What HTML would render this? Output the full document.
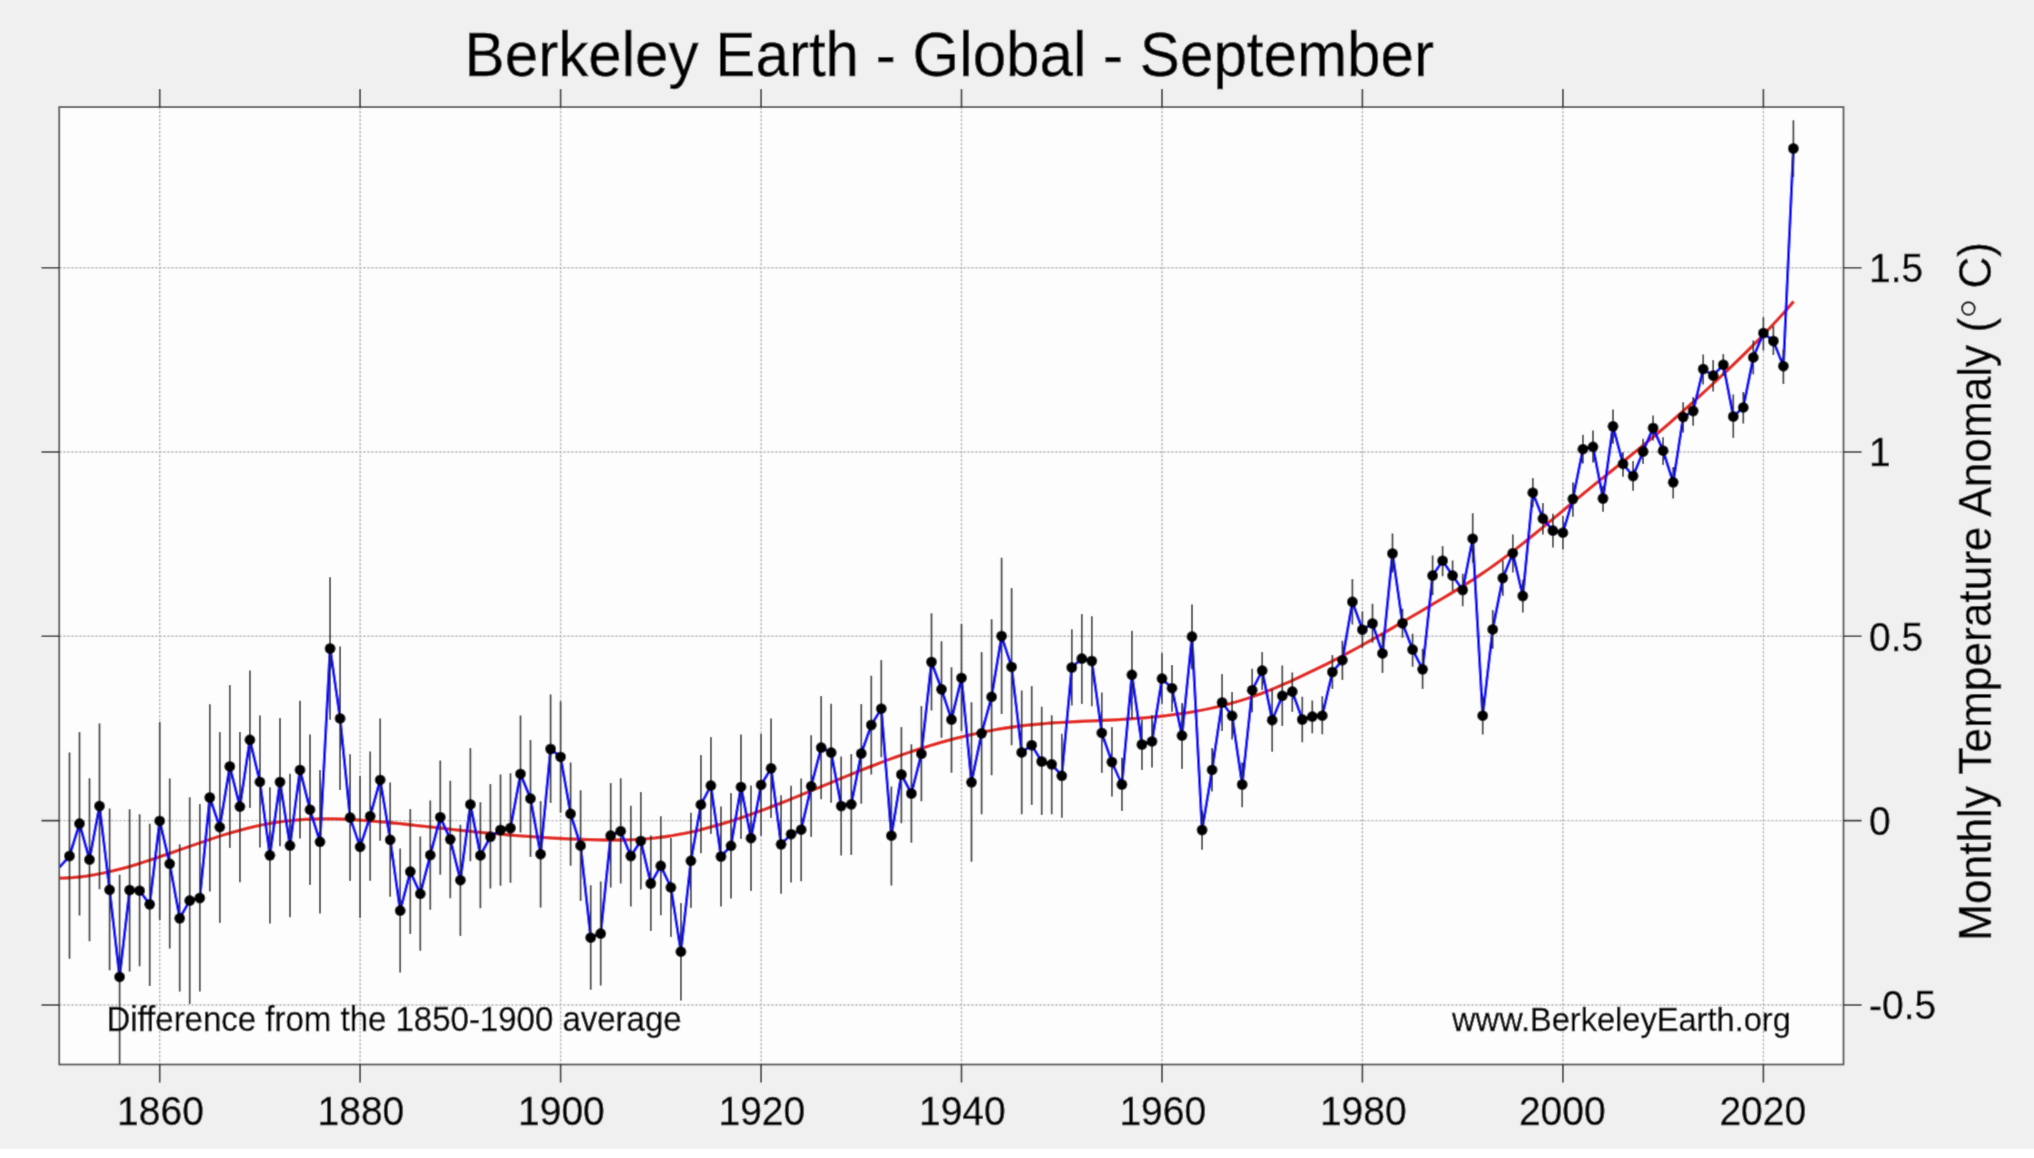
<!DOCTYPE html><html><head><meta charset="utf-8"><style>html,body{margin:0;padding:0;background:#fff;}svg{display:block;}</style></head><body>
<svg width="2034" height="1158" viewBox="0 0 2034 1158" font-family="Liberation Sans, sans-serif">
<defs><filter id="bl" x="0" y="0" width="2034" height="1158" filterUnits="userSpaceOnUse"><feConvolveMatrix order="3" kernelMatrix="1 3 1 3 20 3 1 3 1" divisor="36" edgeMode="duplicate"/></filter></defs>
<g filter="url(#bl)">
<rect x="0" y="0" width="2034" height="1149" fill="#f0f0f0"/>
<rect x="59.25" y="107.1" width="1784.25" height="957.4" fill="#fdfdfd"/>
<path d="M159.7 107.1V1064.5M360.1 107.1V1064.5M560.6 107.1V1064.5M761.1 107.1V1064.5M961.5 107.1V1064.5M1162.0 107.1V1064.5M1362.4 107.1V1064.5M1562.9 107.1V1064.5M1763.4 107.1V1064.5M59.25 1005.0H1843.5M59.25 820.6H1843.5M59.25 636.3H1843.5M59.25 452.0H1843.5M59.25 267.7H1843.5" stroke="#b6b6b6" stroke-width="1.4" stroke-dasharray="2.4 1.6" fill="none"/>
<defs><clipPath id="cp"><rect x="59.25" y="107.1" width="1784.25" height="957.4"/></clipPath></defs>
<g clip-path="url(#cp)">
<polyline points="50.0,877.9 57.3,878.1 64.6,878.0 71.9,877.6 79.2,877.0 86.5,876.1 93.8,874.9 101.1,873.5 108.4,872.0 115.7,870.2 123.0,868.3 130.3,866.3 137.5,864.1 144.8,861.8 152.1,859.4 159.4,856.9 166.7,854.4 174.0,851.9 181.3,849.3 188.6,846.7 195.9,844.2 203.2,841.7 210.5,839.2 217.8,836.8 225.1,834.5 232.4,832.3 239.7,830.3 247.0,828.4 254.3,826.6 261.6,825.0 268.9,823.6 276.2,822.4 283.5,821.4 290.8,820.6 298.1,819.9 305.4,819.4 312.6,819.1 319.9,818.9 327.2,818.8 334.5,818.9 341.8,819.2 349.1,819.5 356.4,819.9 363.7,820.4 371.0,821.0 378.3,821.6 385.6,822.2 392.9,823.0 400.2,823.7 407.5,824.5 414.8,825.3 422.1,826.1 429.4,826.9 436.7,827.7 444.0,828.5 451.3,829.4 458.6,830.2 465.9,830.9 473.2,831.7 480.5,832.4 487.7,833.1 495.0,833.7 502.3,834.4 509.6,835.0 516.9,835.6 524.2,836.1 531.5,836.7 538.8,837.2 546.1,837.6 553.4,838.1 560.7,838.5 568.0,838.8 575.3,839.2 582.6,839.5 589.9,839.7 597.2,839.9 604.5,840.0 611.8,840.1 619.1,840.0 626.4,839.8 633.7,839.6 641.0,839.1 648.3,838.6 655.6,837.9 662.8,837.0 670.1,836.0 677.4,834.7 684.7,833.3 692.0,831.8 699.3,830.1 706.6,828.2 713.9,826.2 721.2,824.1 728.5,821.9 735.8,819.5 743.1,817.1 750.4,814.5 757.7,811.9 765.0,809.2 772.3,806.4 779.6,803.6 786.9,800.7 794.2,797.8 801.5,794.8 808.8,791.8 816.1,788.8 823.4,785.8 830.7,782.7 837.9,779.7 845.2,776.7 852.5,773.8 859.8,770.8 867.1,767.9 874.4,765.1 881.7,762.3 889.0,759.5 896.3,756.9 903.6,754.3 910.9,751.8 918.2,749.4 925.5,747.1 932.8,744.8 940.1,742.7 947.4,740.7 954.7,738.7 962.0,736.9 969.3,735.1 976.6,733.5 983.9,731.9 991.2,730.5 998.5,729.2 1005.8,728.0 1013.0,727.0 1020.3,726.0 1027.6,725.2 1034.9,724.5 1042.2,723.8 1049.5,723.2 1056.8,722.7 1064.1,722.3 1071.4,721.9 1078.7,721.5 1086.0,721.2 1093.3,720.8 1100.6,720.5 1107.9,720.1 1115.2,719.8 1122.5,719.4 1129.8,718.9 1137.1,718.4 1144.4,717.8 1151.7,717.2 1159.0,716.5 1166.3,715.6 1173.6,714.7 1180.9,713.7 1188.1,712.6 1195.4,711.4 1202.7,710.0 1210.0,708.5 1217.3,706.9 1224.6,705.1 1231.9,703.1 1239.2,701.0 1246.5,698.7 1253.8,696.2 1261.1,693.6 1268.4,690.7 1275.7,687.8 1283.0,684.6 1290.3,681.4 1297.6,678.0 1304.9,674.6 1312.2,671.1 1319.5,667.5 1326.8,663.9 1334.1,660.2 1341.4,656.4 1348.7,652.5 1356.0,648.6 1363.2,644.6 1370.5,640.5 1377.8,636.4 1385.1,632.2 1392.4,628.0 1399.7,623.7 1407.0,619.4 1414.3,615.1 1421.6,610.8 1428.9,606.5 1436.2,602.2 1443.5,597.9 1450.8,593.5 1458.1,589.0 1465.4,584.5 1472.7,579.8 1480.0,575.0 1487.3,570.0 1494.6,564.8 1501.9,559.5 1509.2,554.0 1516.5,548.5 1523.8,542.8 1531.1,536.9 1538.3,531.0 1545.6,525.0 1552.9,519.0 1560.2,512.9 1567.5,506.8 1574.8,500.7 1582.1,494.7 1589.4,488.8 1596.7,482.8 1604.0,477.0 1611.3,471.1 1618.6,465.3 1625.9,459.4 1633.2,453.5 1640.5,447.6 1647.8,441.6 1655.1,435.5 1662.4,429.2 1669.7,422.9 1677.0,416.5 1684.3,410.0 1691.6,403.4 1698.9,396.8 1706.2,390.1 1713.4,383.4 1720.7,376.6 1728.0,369.8 1735.3,362.8 1742.6,355.7 1749.9,348.5 1757.2,341.2 1764.5,333.7 1771.8,325.9 1779.1,318.0 1786.4,309.8 1793.7,301.4" fill="none" stroke="#e3261d" stroke-width="3.3" stroke-linejoin="round"/>
<polyline points="59.5,867.3 69.5,856.0 79.5,823.6 89.5,859.6 99.5,806.1 109.6,889.8 119.6,976.9 129.6,890.1 139.6,890.7 149.7,904.3 159.7,820.9 169.7,863.8 179.7,918.3 189.7,900.6 199.8,898.0 209.8,797.5 219.8,827.2 229.8,766.4 239.9,806.6 249.9,739.8 259.9,781.9 269.9,855.3 280.0,782.0 290.0,845.6 300.0,769.9 310.0,809.7 320.0,841.8 330.1,648.5 340.1,718.4 350.1,817.6 360.1,846.9 370.2,816.2 380.2,779.9 390.2,839.8 400.2,910.6 410.3,871.6 420.3,893.8 430.3,855.1 440.3,817.2 450.3,839.3 460.4,880.2 470.4,804.4 480.4,855.4 490.4,836.8 500.5,830.0 510.5,828.1 520.5,773.9 530.5,798.6 540.6,854.2 550.6,749.0 560.6,756.9 570.6,813.8 580.6,845.7 590.7,937.7 600.7,933.6 610.7,835.6 620.7,831.2 630.8,856.1 640.8,840.9 650.8,883.5 660.8,865.8 670.9,887.4 680.9,951.7 690.9,860.8 700.9,804.7 710.9,785.6 721.0,856.5 731.0,845.8 741.0,786.9 751.0,838.2 761.1,784.9 771.1,768.3 781.1,844.3 791.1,834.2 801.2,829.7 811.2,786.3 821.2,747.6 831.2,752.6 841.2,806.1 851.3,804.3 861.3,753.5 871.3,725.0 881.3,708.7 891.4,835.7 901.4,774.5 911.4,793.5 921.4,753.8 931.5,662.0 941.5,689.3 951.5,719.6 961.5,677.9 971.5,782.3 981.6,733.3 991.6,696.8 1001.6,636.1 1011.6,666.9 1021.7,752.4 1031.7,745.2 1041.7,761.5 1051.7,764.3 1061.8,775.8 1071.8,667.5 1081.8,658.6 1091.8,661.0 1101.8,732.9 1111.9,762.0 1121.9,784.5 1131.9,674.8 1141.9,744.5 1152.0,741.4 1162.0,678.6 1172.0,688.2 1182.0,735.6 1192.0,636.6 1202.1,830.0 1212.1,769.9 1222.1,702.5 1232.1,715.8 1242.2,784.5 1252.2,690.2 1262.2,670.6 1272.2,720.2 1282.3,695.8 1292.3,691.6 1302.3,719.5 1312.3,716.6 1322.3,715.7 1332.4,672.0 1342.4,660.2 1352.4,601.8 1362.4,629.7 1372.5,623.5 1382.5,653.4 1392.5,553.5 1402.5,623.3 1412.6,649.6 1422.6,669.3 1432.6,575.6 1442.6,560.7 1452.6,575.6 1462.7,590.0 1472.7,538.7 1482.7,715.7 1492.7,629.4 1502.8,578.1 1512.8,553.2 1522.8,596.0 1532.8,492.7 1542.9,518.6 1552.9,530.6 1562.9,532.7 1572.9,499.0 1582.9,449.2 1593.0,446.8 1603.0,498.5 1613.0,426.3 1623.0,463.9 1633.1,476.1 1643.1,451.5 1653.1,427.9 1663.1,450.7 1673.2,482.3 1683.2,417.1 1693.2,411.0 1703.2,369.1 1713.2,375.6 1723.3,364.7 1733.3,416.5 1743.3,407.4 1753.3,357.4 1763.4,333.1 1773.4,341.0 1783.4,366.2 1793.4,148.5" fill="none" stroke="#0000ff" stroke-width="2.9" stroke-linejoin="round"/>
<path d="M69.5 752.6V958.7M79.5 731.9V915.4M89.5 778.3V941.2M99.5 723.5V889.2M109.6 808.5V970.2M119.6 874.7V1070.0M129.6 809.2V971.4M139.6 814.3V966.3M149.7 823.7V985.9M159.7 722.0V920.0M169.7 778.4V948.6M179.7 844.3V991.5M189.7 797.3V1004.0M199.8 804.0V991.5M209.8 704.2V891.4M219.8 732.0V923.0M229.8 685.1V848.0M239.9 732.0V882.2M249.9 670.6V808.1M259.9 715.5V847.5M269.9 787.3V923.4M280.0 718.0V846.3M290.0 773.7V917.2M300.0 700.7V838.4M310.0 734.6V885.0M320.0 769.9V913.4M330.1 577.3V719.7M340.1 646.4V790.0M350.1 754.3V880.9M360.1 775.9V918.0M370.2 751.6V880.8M380.2 718.5V840.7M390.2 782.6V896.8M400.2 848.4V972.6M410.3 808.9V934.1M420.3 836.5V950.7M430.3 800.6V909.8M440.3 760.5V874.7M450.3 780.7V898.2M460.4 824.8V936.0M470.4 747.9V861.2M480.4 802.2V908.2M490.4 784.0V888.6M500.5 774.4V885.7M510.5 773.2V882.8M520.5 715.6V832.4M530.5 740.0V857.1M540.6 801.0V907.4M550.6 694.5V802.9M560.6 701.3V812.6M570.6 762.4V865.8M580.6 790.3V900.9M590.7 885.2V989.7M600.7 881.5V985.6M610.7 783.1V887.6M620.7 778.2V883.5M630.8 805.8V906.5M640.8 792.0V889.5M650.8 835.6V931.1M660.8 816.3V915.2M670.9 837.9V937.0M680.9 902.9V1000.6M690.9 812.7V907.9M700.9 755.1V853.3M710.9 737.0V834.0M721.0 806.4V906.6M731.0 793.1V898.4M741.0 734.5V839.0M751.0 785.6V891.1M761.1 733.8V835.7M771.1 718.4V818.0M781.1 795.3V893.7M791.1 785.8V882.5M801.2 778.4V881.3M811.2 735.3V837.1M821.2 696.0V799.3M831.2 703.8V802.7M841.2 756.6V855.5M851.3 753.9V855.1M861.3 703.9V803.8M871.3 675.8V774.6M881.3 660.0V757.2M891.4 786.5V885.5M901.4 726.9V823.3M911.4 744.2V842.7M921.4 706.1V801.3M931.5 613.3V710.5M941.5 641.3V737.7M951.5 667.2V772.7M961.5 624.1V731.1M971.5 702.3V861.8M981.6 652.0V814.2M991.6 619.2V775.2M1001.6 557.7V713.9M1011.6 587.9V745.2M1021.7 690.5V814.2M1031.7 686.0V805.1M1041.7 706.8V815.1M1051.7 715.3V814.2M1061.8 733.7V817.7M1071.8 629.2V705.5M1081.8 613.9V703.9M1091.8 616.3V706.3M1101.8 692.5V773.1M1111.9 727.1V796.5M1121.9 757.8V811.1M1131.9 630.8V719.1M1141.9 719.9V770.0M1152.0 715.0V767.5M1162.0 653.0V703.8M1172.0 665.1V711.7M1182.0 703.0V768.9M1192.0 604.4V669.2M1202.1 810.2V849.8M1212.1 748.0V791.5M1222.1 673.9V731.0M1232.1 692.0V739.6M1242.2 762.4V807.2M1252.2 668.8V712.3M1262.2 651.9V690.1M1272.2 689.1V751.8M1282.3 665.4V726.1M1292.3 672.4V711.9M1302.3 696.7V742.3M1312.3 700.5V733.2M1322.3 696.3V734.3M1332.4 654.9V689.1M1342.4 640.7V680.0M1352.4 579.0V624.6M1362.4 611.6V647.7M1372.5 603.8V642.8M1382.5 633.7V673.1M1392.5 533.6V572.5M1402.5 608.8V637.8M1412.6 633.7V666.8M1422.6 648.8V689.0M1432.6 555.5V595.3M1442.6 546.0V576.3M1452.6 560.5V590.8M1462.7 573.7V606.3M1472.7 513.3V562.5M1482.7 697.1V734.6M1492.7 610.0V648.7M1502.8 560.4V596.0M1512.8 534.5V572.5M1522.8 579.8V612.4M1532.8 478.1V507.2M1542.9 503.1V534.5M1552.9 513.7V547.6M1562.9 516.0V549.4M1572.9 482.6V516.7M1582.9 434.7V463.6M1593.0 430.5V462.4M1603.0 485.7V511.8M1613.0 409.5V443.7M1623.0 452.3V476.7M1633.1 461.1V490.7M1643.1 438.8V463.9M1653.1 415.4V440.6M1663.1 437.3V465.0M1673.2 467.0V498.5M1683.2 402.2V432.6M1693.2 397.0V425.7M1703.2 354.4V384.6M1713.2 360.1V391.5M1723.3 353.9V376.0M1733.3 394.6V438.1M1743.3 391.9V423.4M1753.3 340.6V374.2M1763.4 317.2V350.4M1773.4 325.9V354.9M1783.4 349.4V383.9M1793.4 120.3V176.9" stroke="#2a2a2a" stroke-width="1.7" fill="none"/>
<circle cx="69.5" cy="856.0" r="5.5" fill="#000000"/>
<circle cx="79.5" cy="823.6" r="5.5" fill="#000000"/>
<circle cx="89.5" cy="859.6" r="5.5" fill="#000000"/>
<circle cx="99.5" cy="806.1" r="5.5" fill="#000000"/>
<circle cx="109.6" cy="889.8" r="5.5" fill="#000000"/>
<circle cx="119.6" cy="976.9" r="5.5" fill="#000000"/>
<circle cx="129.6" cy="890.1" r="5.5" fill="#000000"/>
<circle cx="139.6" cy="890.7" r="5.5" fill="#000000"/>
<circle cx="149.7" cy="904.3" r="5.5" fill="#000000"/>
<circle cx="159.7" cy="820.9" r="5.5" fill="#000000"/>
<circle cx="169.7" cy="863.8" r="5.5" fill="#000000"/>
<circle cx="179.7" cy="918.3" r="5.5" fill="#000000"/>
<circle cx="189.7" cy="900.6" r="5.5" fill="#000000"/>
<circle cx="199.8" cy="898.0" r="5.5" fill="#000000"/>
<circle cx="209.8" cy="797.5" r="5.5" fill="#000000"/>
<circle cx="219.8" cy="827.2" r="5.5" fill="#000000"/>
<circle cx="229.8" cy="766.4" r="5.5" fill="#000000"/>
<circle cx="239.9" cy="806.6" r="5.5" fill="#000000"/>
<circle cx="249.9" cy="739.8" r="5.5" fill="#000000"/>
<circle cx="259.9" cy="781.9" r="5.5" fill="#000000"/>
<circle cx="269.9" cy="855.3" r="5.5" fill="#000000"/>
<circle cx="280.0" cy="782.0" r="5.5" fill="#000000"/>
<circle cx="290.0" cy="845.6" r="5.5" fill="#000000"/>
<circle cx="300.0" cy="769.9" r="5.5" fill="#000000"/>
<circle cx="310.0" cy="809.7" r="5.5" fill="#000000"/>
<circle cx="320.0" cy="841.8" r="5.5" fill="#000000"/>
<circle cx="330.1" cy="648.5" r="5.5" fill="#000000"/>
<circle cx="340.1" cy="718.4" r="5.5" fill="#000000"/>
<circle cx="350.1" cy="817.6" r="5.5" fill="#000000"/>
<circle cx="360.1" cy="846.9" r="5.5" fill="#000000"/>
<circle cx="370.2" cy="816.2" r="5.5" fill="#000000"/>
<circle cx="380.2" cy="779.9" r="5.5" fill="#000000"/>
<circle cx="390.2" cy="839.8" r="5.5" fill="#000000"/>
<circle cx="400.2" cy="910.6" r="5.5" fill="#000000"/>
<circle cx="410.3" cy="871.6" r="5.5" fill="#000000"/>
<circle cx="420.3" cy="893.8" r="5.5" fill="#000000"/>
<circle cx="430.3" cy="855.1" r="5.5" fill="#000000"/>
<circle cx="440.3" cy="817.2" r="5.5" fill="#000000"/>
<circle cx="450.3" cy="839.3" r="5.5" fill="#000000"/>
<circle cx="460.4" cy="880.2" r="5.5" fill="#000000"/>
<circle cx="470.4" cy="804.4" r="5.5" fill="#000000"/>
<circle cx="480.4" cy="855.4" r="5.5" fill="#000000"/>
<circle cx="490.4" cy="836.8" r="5.5" fill="#000000"/>
<circle cx="500.5" cy="830.0" r="5.5" fill="#000000"/>
<circle cx="510.5" cy="828.1" r="5.5" fill="#000000"/>
<circle cx="520.5" cy="773.9" r="5.5" fill="#000000"/>
<circle cx="530.5" cy="798.6" r="5.5" fill="#000000"/>
<circle cx="540.6" cy="854.2" r="5.5" fill="#000000"/>
<circle cx="550.6" cy="749.0" r="5.5" fill="#000000"/>
<circle cx="560.6" cy="756.9" r="5.5" fill="#000000"/>
<circle cx="570.6" cy="813.8" r="5.5" fill="#000000"/>
<circle cx="580.6" cy="845.7" r="5.5" fill="#000000"/>
<circle cx="590.7" cy="937.7" r="5.5" fill="#000000"/>
<circle cx="600.7" cy="933.6" r="5.5" fill="#000000"/>
<circle cx="610.7" cy="835.6" r="5.5" fill="#000000"/>
<circle cx="620.7" cy="831.2" r="5.5" fill="#000000"/>
<circle cx="630.8" cy="856.1" r="5.5" fill="#000000"/>
<circle cx="640.8" cy="840.9" r="5.5" fill="#000000"/>
<circle cx="650.8" cy="883.5" r="5.5" fill="#000000"/>
<circle cx="660.8" cy="865.8" r="5.5" fill="#000000"/>
<circle cx="670.9" cy="887.4" r="5.5" fill="#000000"/>
<circle cx="680.9" cy="951.7" r="5.5" fill="#000000"/>
<circle cx="690.9" cy="860.8" r="5.5" fill="#000000"/>
<circle cx="700.9" cy="804.7" r="5.5" fill="#000000"/>
<circle cx="710.9" cy="785.6" r="5.5" fill="#000000"/>
<circle cx="721.0" cy="856.5" r="5.5" fill="#000000"/>
<circle cx="731.0" cy="845.8" r="5.5" fill="#000000"/>
<circle cx="741.0" cy="786.9" r="5.5" fill="#000000"/>
<circle cx="751.0" cy="838.2" r="5.5" fill="#000000"/>
<circle cx="761.1" cy="784.9" r="5.5" fill="#000000"/>
<circle cx="771.1" cy="768.3" r="5.5" fill="#000000"/>
<circle cx="781.1" cy="844.3" r="5.5" fill="#000000"/>
<circle cx="791.1" cy="834.2" r="5.5" fill="#000000"/>
<circle cx="801.2" cy="829.7" r="5.5" fill="#000000"/>
<circle cx="811.2" cy="786.3" r="5.5" fill="#000000"/>
<circle cx="821.2" cy="747.6" r="5.5" fill="#000000"/>
<circle cx="831.2" cy="752.6" r="5.5" fill="#000000"/>
<circle cx="841.2" cy="806.1" r="5.5" fill="#000000"/>
<circle cx="851.3" cy="804.3" r="5.5" fill="#000000"/>
<circle cx="861.3" cy="753.5" r="5.5" fill="#000000"/>
<circle cx="871.3" cy="725.0" r="5.5" fill="#000000"/>
<circle cx="881.3" cy="708.7" r="5.5" fill="#000000"/>
<circle cx="891.4" cy="835.7" r="5.5" fill="#000000"/>
<circle cx="901.4" cy="774.5" r="5.5" fill="#000000"/>
<circle cx="911.4" cy="793.5" r="5.5" fill="#000000"/>
<circle cx="921.4" cy="753.8" r="5.5" fill="#000000"/>
<circle cx="931.5" cy="662.0" r="5.5" fill="#000000"/>
<circle cx="941.5" cy="689.3" r="5.5" fill="#000000"/>
<circle cx="951.5" cy="719.6" r="5.5" fill="#000000"/>
<circle cx="961.5" cy="677.9" r="5.5" fill="#000000"/>
<circle cx="971.5" cy="782.3" r="5.5" fill="#000000"/>
<circle cx="981.6" cy="733.3" r="5.5" fill="#000000"/>
<circle cx="991.6" cy="696.8" r="5.5" fill="#000000"/>
<circle cx="1001.6" cy="636.1" r="5.5" fill="#000000"/>
<circle cx="1011.6" cy="666.9" r="5.5" fill="#000000"/>
<circle cx="1021.7" cy="752.4" r="5.5" fill="#000000"/>
<circle cx="1031.7" cy="745.2" r="5.5" fill="#000000"/>
<circle cx="1041.7" cy="761.5" r="5.5" fill="#000000"/>
<circle cx="1051.7" cy="764.3" r="5.5" fill="#000000"/>
<circle cx="1061.8" cy="775.8" r="5.5" fill="#000000"/>
<circle cx="1071.8" cy="667.5" r="5.5" fill="#000000"/>
<circle cx="1081.8" cy="658.6" r="5.5" fill="#000000"/>
<circle cx="1091.8" cy="661.0" r="5.5" fill="#000000"/>
<circle cx="1101.8" cy="732.9" r="5.5" fill="#000000"/>
<circle cx="1111.9" cy="762.0" r="5.5" fill="#000000"/>
<circle cx="1121.9" cy="784.5" r="5.5" fill="#000000"/>
<circle cx="1131.9" cy="674.8" r="5.5" fill="#000000"/>
<circle cx="1141.9" cy="744.5" r="5.5" fill="#000000"/>
<circle cx="1152.0" cy="741.4" r="5.5" fill="#000000"/>
<circle cx="1162.0" cy="678.6" r="5.5" fill="#000000"/>
<circle cx="1172.0" cy="688.2" r="5.5" fill="#000000"/>
<circle cx="1182.0" cy="735.6" r="5.5" fill="#000000"/>
<circle cx="1192.0" cy="636.6" r="5.5" fill="#000000"/>
<circle cx="1202.1" cy="830.0" r="5.5" fill="#000000"/>
<circle cx="1212.1" cy="769.9" r="5.5" fill="#000000"/>
<circle cx="1222.1" cy="702.5" r="5.5" fill="#000000"/>
<circle cx="1232.1" cy="715.8" r="5.5" fill="#000000"/>
<circle cx="1242.2" cy="784.5" r="5.5" fill="#000000"/>
<circle cx="1252.2" cy="690.2" r="5.5" fill="#000000"/>
<circle cx="1262.2" cy="670.6" r="5.5" fill="#000000"/>
<circle cx="1272.2" cy="720.2" r="5.5" fill="#000000"/>
<circle cx="1282.3" cy="695.8" r="5.5" fill="#000000"/>
<circle cx="1292.3" cy="691.6" r="5.5" fill="#000000"/>
<circle cx="1302.3" cy="719.5" r="5.5" fill="#000000"/>
<circle cx="1312.3" cy="716.6" r="5.5" fill="#000000"/>
<circle cx="1322.3" cy="715.7" r="5.5" fill="#000000"/>
<circle cx="1332.4" cy="672.0" r="5.5" fill="#000000"/>
<circle cx="1342.4" cy="660.2" r="5.5" fill="#000000"/>
<circle cx="1352.4" cy="601.8" r="5.5" fill="#000000"/>
<circle cx="1362.4" cy="629.7" r="5.5" fill="#000000"/>
<circle cx="1372.5" cy="623.5" r="5.5" fill="#000000"/>
<circle cx="1382.5" cy="653.4" r="5.5" fill="#000000"/>
<circle cx="1392.5" cy="553.5" r="5.5" fill="#000000"/>
<circle cx="1402.5" cy="623.3" r="5.5" fill="#000000"/>
<circle cx="1412.6" cy="649.6" r="5.5" fill="#000000"/>
<circle cx="1422.6" cy="669.3" r="5.5" fill="#000000"/>
<circle cx="1432.6" cy="575.6" r="5.5" fill="#000000"/>
<circle cx="1442.6" cy="560.7" r="5.5" fill="#000000"/>
<circle cx="1452.6" cy="575.6" r="5.5" fill="#000000"/>
<circle cx="1462.7" cy="590.0" r="5.5" fill="#000000"/>
<circle cx="1472.7" cy="538.7" r="5.5" fill="#000000"/>
<circle cx="1482.7" cy="715.7" r="5.5" fill="#000000"/>
<circle cx="1492.7" cy="629.4" r="5.5" fill="#000000"/>
<circle cx="1502.8" cy="578.1" r="5.5" fill="#000000"/>
<circle cx="1512.8" cy="553.2" r="5.5" fill="#000000"/>
<circle cx="1522.8" cy="596.0" r="5.5" fill="#000000"/>
<circle cx="1532.8" cy="492.7" r="5.5" fill="#000000"/>
<circle cx="1542.9" cy="518.6" r="5.5" fill="#000000"/>
<circle cx="1552.9" cy="530.6" r="5.5" fill="#000000"/>
<circle cx="1562.9" cy="532.7" r="5.5" fill="#000000"/>
<circle cx="1572.9" cy="499.0" r="5.5" fill="#000000"/>
<circle cx="1582.9" cy="449.2" r="5.5" fill="#000000"/>
<circle cx="1593.0" cy="446.8" r="5.5" fill="#000000"/>
<circle cx="1603.0" cy="498.5" r="5.5" fill="#000000"/>
<circle cx="1613.0" cy="426.3" r="5.5" fill="#000000"/>
<circle cx="1623.0" cy="463.9" r="5.5" fill="#000000"/>
<circle cx="1633.1" cy="476.1" r="5.5" fill="#000000"/>
<circle cx="1643.1" cy="451.5" r="5.5" fill="#000000"/>
<circle cx="1653.1" cy="427.9" r="5.5" fill="#000000"/>
<circle cx="1663.1" cy="450.7" r="5.5" fill="#000000"/>
<circle cx="1673.2" cy="482.3" r="5.5" fill="#000000"/>
<circle cx="1683.2" cy="417.1" r="5.5" fill="#000000"/>
<circle cx="1693.2" cy="411.0" r="5.5" fill="#000000"/>
<circle cx="1703.2" cy="369.1" r="5.5" fill="#000000"/>
<circle cx="1713.2" cy="375.6" r="5.5" fill="#000000"/>
<circle cx="1723.3" cy="364.7" r="5.5" fill="#000000"/>
<circle cx="1733.3" cy="416.5" r="5.5" fill="#000000"/>
<circle cx="1743.3" cy="407.4" r="5.5" fill="#000000"/>
<circle cx="1753.3" cy="357.4" r="5.5" fill="#000000"/>
<circle cx="1763.4" cy="333.1" r="5.5" fill="#000000"/>
<circle cx="1773.4" cy="341.0" r="5.5" fill="#000000"/>
<circle cx="1783.4" cy="366.2" r="5.5" fill="#000000"/>
<circle cx="1793.4" cy="148.5" r="5.5" fill="#000000"/>
</g>
<rect x="59.25" y="107.1" width="1784.25" height="957.4" fill="none" stroke="#505050" stroke-width="1.8"/>
<path d="M159.7 89V107.1M159.7 1064.5V1082.5M360.1 89V107.1M360.1 1064.5V1082.5M560.6 89V107.1M560.6 1064.5V1082.5M761.1 89V107.1M761.1 1064.5V1082.5M961.5 89V107.1M961.5 1064.5V1082.5M1162.0 89V107.1M1162.0 1064.5V1082.5M1362.4 89V107.1M1362.4 1064.5V1082.5M1562.9 89V107.1M1562.9 1064.5V1082.5M1763.4 89V107.1M1763.4 1064.5V1082.5M41.5 1005.0H59.25M1843.5 1005.0H1861.6M41.5 820.6H59.25M1843.5 820.6H1861.6M41.5 636.3H59.25M1843.5 636.3H1861.6M41.5 452.0H59.25M1843.5 452.0H1861.6M41.5 267.7H59.25M1843.5 267.7H1861.6" stroke="#222222" stroke-width="1.6" fill="none"/>
<text transform="translate(160.48,1125.00) scale(1,1.04)" font-size="39" text-anchor="middle" fill="#000" stroke="#000" stroke-width="0.35">1860</text>
<text transform="translate(360.94,1125.00) scale(1,1.04)" font-size="39" text-anchor="middle" fill="#000" stroke="#000" stroke-width="0.35">1880</text>
<text transform="translate(561.40,1125.00) scale(1,1.04)" font-size="39" text-anchor="middle" fill="#000" stroke="#000" stroke-width="0.35">1900</text>
<text transform="translate(761.86,1125.00) scale(1,1.04)" font-size="39" text-anchor="middle" fill="#000" stroke="#000" stroke-width="0.35">1920</text>
<text transform="translate(962.32,1125.00) scale(1,1.04)" font-size="39" text-anchor="middle" fill="#000" stroke="#000" stroke-width="0.35">1940</text>
<text transform="translate(1162.78,1125.00) scale(1,1.04)" font-size="39" text-anchor="middle" fill="#000" stroke="#000" stroke-width="0.35">1960</text>
<text transform="translate(1363.24,1125.00) scale(1,1.04)" font-size="39" text-anchor="middle" fill="#000" stroke="#000" stroke-width="0.35">1980</text>
<text transform="translate(1562.30,1125.00) scale(1,1.04)" font-size="39" text-anchor="middle" fill="#000" stroke="#000" stroke-width="0.35">2000</text>
<text transform="translate(1762.76,1125.00) scale(1,1.04)" font-size="39" text-anchor="middle" fill="#000" stroke="#000" stroke-width="0.35">2020</text>
<text transform="translate(1869.00,1019.35) scale(1,1.04)" font-size="39" fill="#000" stroke="#000" stroke-width="0.35">-0.5</text>
<text transform="translate(1869.00,835.05) scale(1,1.04)" font-size="39" fill="#000" stroke="#000" stroke-width="0.35">0</text>
<text transform="translate(1869.00,650.75) scale(1,1.04)" font-size="39" fill="#000" stroke="#000" stroke-width="0.35">0.5</text>
<text transform="translate(1869.00,466.45) scale(1,1.04)" font-size="39" fill="#000" stroke="#000" stroke-width="0.35">1</text>
<text transform="translate(1869.00,282.15) scale(1,1.04)" font-size="39" fill="#000" stroke="#000" stroke-width="0.35">1.5</text>
<text transform="translate(464.60,76.40) scale(1,1.04)" font-size="60.15" fill="#000" stroke="#000" stroke-width="0.35">Berkeley Earth - Global - September</text>
<text transform="translate(106.40,1030.50) scale(1,1.04)" font-size="33" fill="#000" stroke="#000" stroke-width="0.35">Difference from the 1850-1900 average</text>
<text transform="translate(1790.80,1030.50) scale(1,1.04)" font-size="32.6" text-anchor="end" fill="#000" stroke="#000" stroke-width="0.35">www.BerkeleyEarth.org</text>
<g transform="translate(1991,940.8) rotate(-90) scale(1,1.04)"><text x="0" y="0" font-size="44.2" fill="#000" stroke="#000" stroke-width="0.35">Monthly Temperature Anomaly (</text><text x="652.3" y="0" font-size="44" fill="#000" stroke="#000" stroke-width="0.35">C)</text></g>
<circle cx="1968.4" cy="308.5" r="6.3" fill="none" stroke="#000" stroke-width="1.9"/>
</g>
</svg></body></html>
